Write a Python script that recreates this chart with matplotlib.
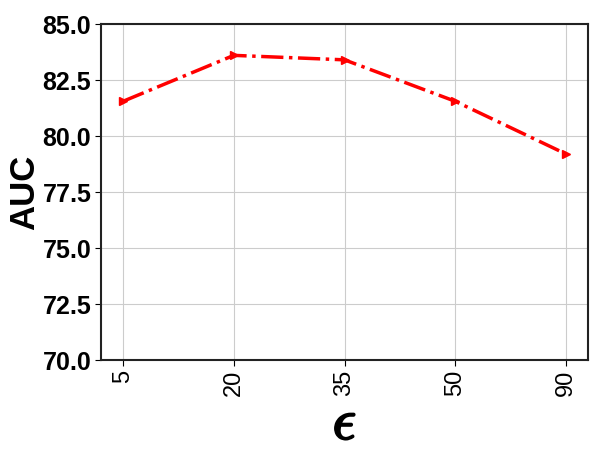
import matplotlib
matplotlib.use("Agg")
import matplotlib.pyplot as plt
import matplotlib.patheffects as pe

categories = ["5", "20", "35", "50", "90"]
auc = [81.55, 83.6, 83.4, 81.55, 79.2]
yticks = [70.0, 72.5, 75.0, 77.5, 80.0, 82.5, 85.0]

plt.rcParams["font.family"] = ["Liberation Sans", "DejaVu Sans"]
plt.rcParams["mathtext.fontset"] = "cm"

fig = plt.figure(figsize=(5.98, 4.62), dpi=100)
ax = fig.add_axes([101/598, 1 - 360/462, (588-101)/598, (360-24)/462])
x = list(range(len(categories)))
ax.plot(x, auc, color="red", linestyle="-.", linewidth=2.5, marker=">", markersize=6)
ax.set_xlim(-0.2, 4.2)
ax.set_ylim(70, 85)
ax.set_xticks(x)
ax.set_xticklabels(categories, rotation=90, fontsize=17)
ax.set_yticks(yticks)
ax.set_yticklabels([f"{v:.1f}" for v in yticks], fontsize=18, fontweight="bold")
ax.tick_params(axis="both", length=4, pad=3)
ax.grid(True, color="#cccccc", linewidth=0.8)
for s in ax.spines.values():
    s.set_linewidth(1.5)
    s.set_color("#222222")
ax.set_ylabel("AUC", fontsize=25, fontweight="bold", labelpad=1)
xl = ax.set_xlabel(r"$\epsilon$", fontsize=42, labelpad=1)
xl.set_path_effects([pe.withStroke(linewidth=1.5, foreground="black")])
fig.savefig("out.png", dpi=100)
